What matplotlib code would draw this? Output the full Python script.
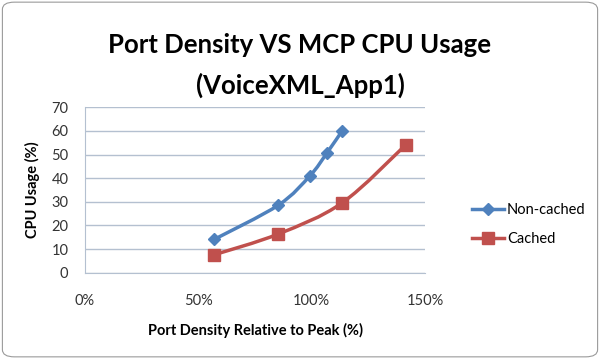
import matplotlib.pyplot as plt
from matplotlib.path import Path
from matplotlib.patches import PathPatch, FancyBboxPatch
from matplotlib.lines import Line2D
from matplotlib.ticker import FuncFormatter

plt.rcParams['font.family'] = ['Lato', 'DejaVu Sans']

# data
noncached_x = [0.57, 0.853, 0.993, 1.066, 1.135]
noncached_y = [14.1, 28.6, 41.1, 50.5, 60.1]
cached_x = [0.57, 0.853, 1.135, 1.416]
cached_y = [7.6, 16.4, 29.6, 54.2]
series = [("Non-cached", noncached_x, noncached_y, '#4F81BD', 'D', 6),
          ("Cached", cached_x, cached_y, '#C0504D', 's', 8)]


def smooth_path(xs, ys, t=1/6):
    # bezier segments through the points (like excel smoothed lines)
    verts = [(xs[0], ys[0])]
    codes = [Path.MOVETO]
    n = len(xs)
    for i in range(n - 1):
        x0, y0 = xs[max(i - 1, 0)], ys[max(i - 1, 0)]
        x1, y1 = xs[i], ys[i]
        x2, y2 = xs[i + 1], ys[i + 1]
        x3, y3 = xs[min(i + 2, n - 1)], ys[min(i + 2, n - 1)]
        c1 = (x1 + (x2 - x0) * t, y1 + (y2 - y0) * t)
        c2 = (x2 - (x3 - x1) * t, y2 - (y3 - y1) * t)
        verts += [c1, c2, (x2, y2)]
        codes += [Path.CURVE4] * 3
    return Path(verts, codes)


fig = plt.figure(figsize=(6, 3.59), dpi=100)
border = FancyBboxPatch((0.004, 0.006), 0.992, 0.988, boxstyle="round,pad=0,rounding_size=0.02",
                        transform=fig.transFigure, fc='white', ec='#9a9a9a', lw=0.8, zorder=-5)
fig.patches.append(border)
ax = fig.add_axes([0.1417, 0.2404, 0.5666, 0.4606])
ax.set_facecolor('none')

for label, xs, ys, col, mk, ms in series:
    ax.add_patch(PathPatch(smooth_path(xs, ys), fc='none', ec=col, lw=2.5, zorder=3))
    ax.plot(xs, ys, ls='none', marker=mk, ms=ms, color=col, mec=col, zorder=4)

ax.set_xlim(0, 1.5)
ax.set_ylim(0, 70)
ax.set_xticks([0, 0.5, 1.0, 1.5])
ax.set_yticks(range(0, 71, 10))
ax.xaxis.set_major_formatter(FuncFormatter(lambda v, p: f"{v*100:.0f}%"))
ax.yaxis.grid(True, color='#b4c0d0', lw=1)
ax.set_axisbelow(True)
for s in ['top', 'right']:
    ax.spines[s].set_visible(False)
for s in ['left', 'bottom']:
    ax.spines[s].set_color('#b4c0d0')
ax.tick_params(length=0, labelsize=10.5, colors='#333333', pad=12)
ax.tick_params(axis='x', pad=15)

ax.set_xlabel("Port Density Relative to Peak (%)", fontsize=10.5, fontweight='bold', labelpad=11)
ax.set_ylabel("CPU Usage (%)", fontsize=10.5, fontweight='bold', labelpad=8)

fig.text(0.5, 0.875, "Port Density VS MCP CPU Usage", ha='center', va='center', fontsize=18.5, fontweight='bold')
fig.text(0.5, 0.762, "(VoiceXML_App1)", ha='center', va='center', fontsize=18.5, fontweight='bold')

handles = [Line2D([], [], color=c, lw=2.5, marker=m, ms=ms) for _, _, _, c, m, ms in series]
fig.legend(handles, [s[0] for s in series], loc='center left', bbox_to_anchor=(0.765, 0.375),
           frameon=False, fontsize=10.5, handlelength=2.2, handletextpad=0.2, labelspacing=1.0)

fig.savefig("out.png", dpi=100)
